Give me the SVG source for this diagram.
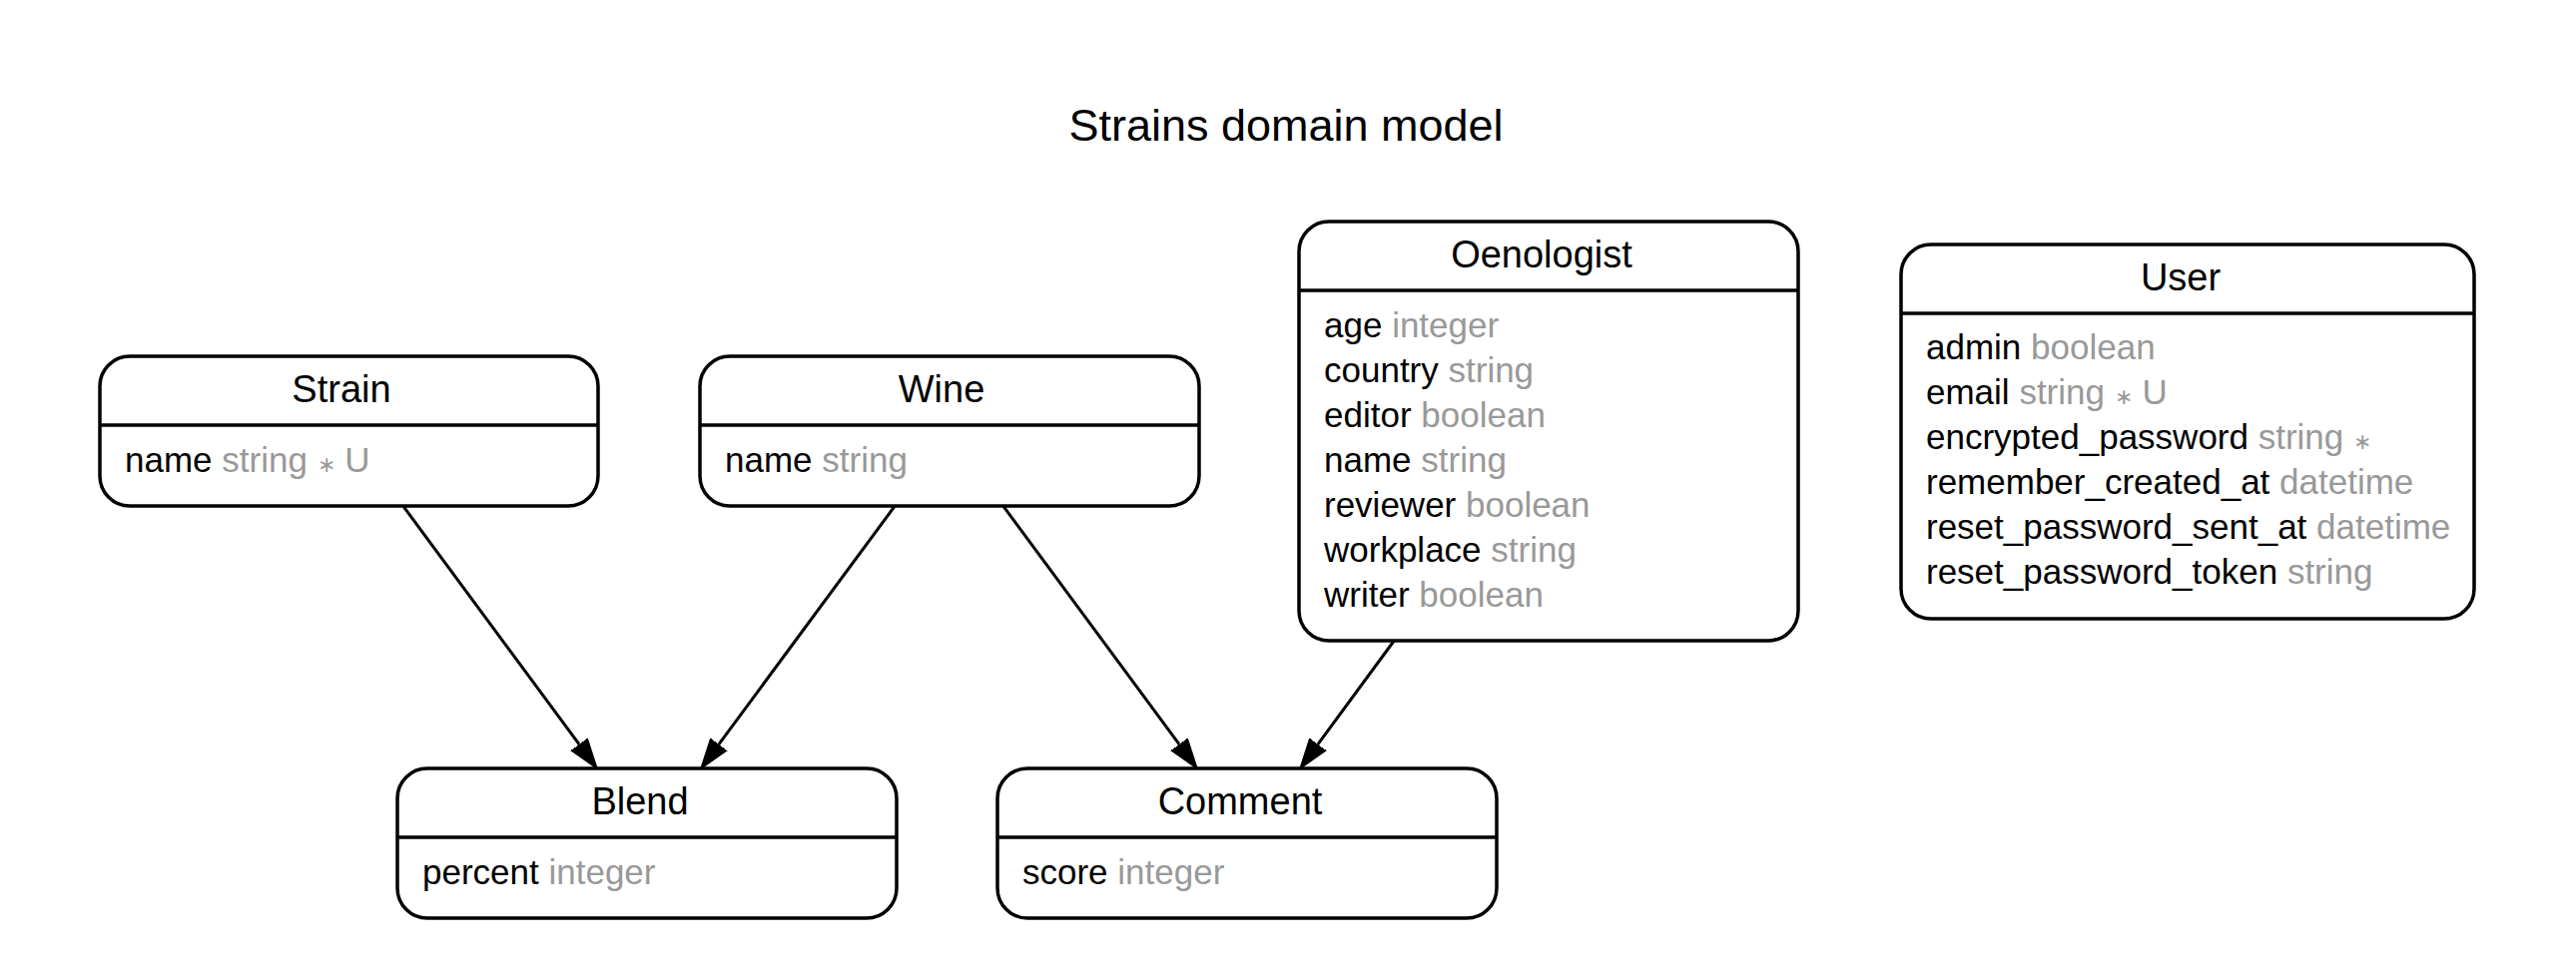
<svg xmlns="http://www.w3.org/2000/svg" width="2580" height="976" viewBox="0 0 2580 976">
<style>
.box{fill:#fff;stroke:#000;stroke-width:3.5}
.div{stroke:#000;stroke-width:3.5}
.t{font-family:"Liberation Sans",Arial,Helvetica,sans-serif;fill:#000}
.title{font-size:45px;text-anchor:middle}
.name{font-size:38px;text-anchor:middle}
.attr{font-size:35px}
.ty{fill:#999}
.ast{font-size:22px;fill:#999}
.edge{fill:none;stroke:#000;stroke-width:3}
</style>
<defs>
<marker id="arr" viewBox="0 -11 32 22" refX="0" refY="0" markerWidth="32" markerHeight="22" markerUnits="userSpaceOnUse" orient="auto">
<path d="M0,-10 L30,0 L0,10 Z" fill="#000" stroke="#000" stroke-width="1.5"/>
</marker>
</defs>
<rect width="2580" height="976" fill="#fff"/>
<text class="t title" x="1288" y="141">Strains domain model</text>

<g id="edges">
<line class="edge" x1="403" y1="506" x2="580.1" y2="745.9" marker-end="url(#arr)"/>
<line class="edge" x1="897" y1="506" x2="719.9" y2="745.9" marker-end="url(#arr)"/>
<line class="edge" x1="1004" y1="506" x2="1181.1" y2="745.9" marker-end="url(#arr)"/>
<line class="edge" x1="1397" y1="641" x2="1319.9" y2="745.9" marker-end="url(#arr)"/>
</g>

<g id="Strain">
<rect class="box" x="100" y="357" width="499" height="150" rx="30"/>
<line class="div" x1="100" y1="426" x2="599" y2="426"/>
<text class="t name" x="342" y="403">Strain</text>
<text class="t attr" x="125" y="473">name <tspan class="ty">string</tspan> <tspan class="ast">∗</tspan> <tspan class="ty">U</tspan></text>
</g>

<g id="Wine">
<rect class="box" x="701" y="357" width="500" height="150" rx="30"/>
<line class="div" x1="701" y1="426" x2="1201" y2="426"/>
<text class="t name" x="943" y="403">Wine</text>
<text class="t attr" x="726" y="473">name <tspan class="ty">string</tspan></text>
</g>

<g id="Oenologist">
<rect class="box" x="1301" y="222" width="500" height="420" rx="30"/>
<line class="div" x1="1301" y1="291" x2="1801" y2="291"/>
<text class="t name" x="1544" y="268">Oenologist</text>
<text class="t attr" x="1326" y="338">age <tspan class="ty">integer</tspan></text>
<text class="t attr" x="1326" y="383">country <tspan class="ty">string</tspan></text>
<text class="t attr" x="1326" y="428">editor <tspan class="ty">boolean</tspan></text>
<text class="t attr" x="1326" y="473">name <tspan class="ty">string</tspan></text>
<text class="t attr" x="1326" y="518">reviewer <tspan class="ty">boolean</tspan></text>
<text class="t attr" x="1326" y="563">workplace <tspan class="ty">string</tspan></text>
<text class="t attr" x="1326" y="608">writer <tspan class="ty">boolean</tspan></text>
</g>

<g id="User">
<rect class="box" x="1904" y="245" width="574" height="375" rx="30"/>
<line class="div" x1="1904" y1="314" x2="2478" y2="314"/>
<text class="t name" x="2184" y="291">User</text>
<text class="t attr" x="1929" y="360">admin <tspan class="ty">boolean</tspan></text>
<text class="t attr" x="1929" y="405">email <tspan class="ty">string</tspan> <tspan class="ast">∗</tspan> <tspan class="ty">U</tspan></text>
<text class="t attr" x="1929" y="450">encrypted_password <tspan class="ty">string</tspan> <tspan class="ast">∗</tspan></text>
<text class="t attr" x="1929" y="495">remember_created_at <tspan class="ty">datetime</tspan></text>
<text class="t attr" x="1929" y="540">reset_password_sent_at <tspan class="ty">datetime</tspan></text>
<text class="t attr" x="1929" y="585">reset_password_token <tspan class="ty">string</tspan></text>
</g>

<g id="Blend">
<rect class="box" x="398" y="770" width="500" height="150" rx="30"/>
<line class="div" x1="398" y1="839" x2="898" y2="839"/>
<text class="t name" x="641" y="816">Blend</text>
<text class="t attr" x="423" y="886">percent <tspan class="ty">integer</tspan></text>
</g>

<g id="Comment">
<rect class="box" x="999" y="770" width="500" height="150" rx="30"/>
<line class="div" x1="999" y1="839" x2="1499" y2="839"/>
<text class="t name" x="1242" y="816">Comment</text>
<text class="t attr" x="1024" y="886">score <tspan class="ty">integer</tspan></text>
</g>
</svg>
